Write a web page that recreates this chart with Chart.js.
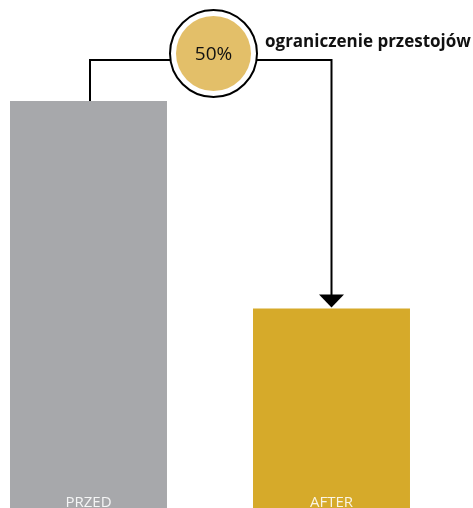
<!DOCTYPE html>
<html>
<head>
<meta charset="utf-8">
<script src="https://cdn.jsdelivr.net/npm/chart.js@4/dist/chart.umd.min.js"></script>
<style>
html, body { margin: 0; padding: 0; background: #fff; }
canvas { display: block; }
</style>
</head>
<body>
<canvas id="wykres" width="473" height="508"></canvas>
<script>
// dane
const categories = ['PRZED', 'AFTER'];
const values = [100, 49];
const barColors = ['#a7a8ab', '#d6aa2a'];
const badgeText = '50%';
const noteText = 'ograniczenie przestojów';

// etykiety w środku słupków + strzałka z kółkiem
const annotations = {
  id: 'annotations',
  afterDatasetsDraw(chart) {
    const ctx = chart.ctx;
    const meta = chart.getDatasetMeta(0);
    const b0 = meta.data[0], b1 = meta.data[1];
    const lineY = 60;
    const cx = 213.5, cy = 53.5;

    ctx.save();
    // etykiety kategorii
    ctx.font = '15px "Open Sans"';
    ctx.fillStyle = 'rgba(255,255,255,0.88)';
    ctx.textAlign = 'center';
    ctx.textBaseline = 'alphabetic';
    meta.data.forEach((bar, i) => {
      ctx.fillText(categories[i], bar.x, chart.chartArea.bottom - 1);
    });

    // łącznik
    ctx.strokeStyle = '#000';
    ctx.lineWidth = 2;
    ctx.beginPath();
    ctx.moveTo(b0.x + 1.5, b0.y);
    ctx.lineTo(b0.x + 1.5, lineY);
    ctx.lineTo(b1.x, lineY);
    ctx.lineTo(b1.x, b1.y - 12);
    ctx.stroke();

    // grot strzałki
    ctx.fillStyle = '#000';
    ctx.beginPath();
    ctx.moveTo(b1.x - 12.5, b1.y - 14);
    ctx.lineTo(b1.x + 12.5, b1.y - 14);
    ctx.lineTo(b1.x, b1.y - 1);
    ctx.closePath();
    ctx.fill();

    // kółko
    ctx.beginPath();
    ctx.arc(cx, cy, 43.5, 0, Math.PI * 2);
    ctx.fillStyle = '#fff';
    ctx.fill();
    ctx.lineWidth = 2;
    ctx.strokeStyle = '#000';
    ctx.stroke();
    ctx.beginPath();
    ctx.arc(cx, cy, 37.5, 0, Math.PI * 2);
    ctx.fillStyle = '#e3bf69';
    ctx.fill();

    ctx.fillStyle = '#111';
    ctx.font = '19px "Open Sans"';
    ctx.textBaseline = 'middle';
    ctx.fillText(badgeText, cx, cy + 1);

    ctx.font = 'bold 17px "Open Sans"';
    ctx.textAlign = 'left';
    ctx.textBaseline = 'alphabetic';
    ctx.fillText(noteText, 265, 47);
    ctx.restore();
  }
};

const config = {
  type: 'bar',
  data: {
    labels: categories,
    datasets: [{
      data: values,
      backgroundColor: barColors,
      borderWidth: 0,
      categoryPercentage: 1,
      barPercentage: 0.646,
      clip: false
    }]
  },
  options: {
    responsive: false,
    animation: false,
    layout: { padding: { left: 88.5, right: 141.5, top: 101, bottom: 0 } },
    scales: {
      x: { display: false, offset: false, grid: { display: false } },
      y: { display: false, min: 0, max: 100 }
    },
    plugins: {
      legend: { display: false },
      tooltip: { enabled: false }
    }
  },
  plugins: [annotations]
};

const myChart = new Chart(document.getElementById('wykres'), config);
</script>
</body>
</html>
